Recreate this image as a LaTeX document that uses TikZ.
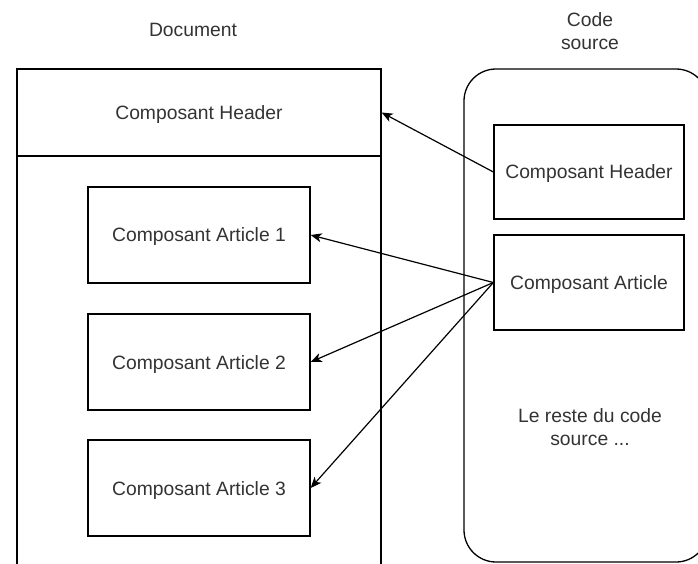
\documentclass[tikz,border=0pt]{standalone}
\usepackage{fontspec}
\setmainfont{Liberation Sans}
\usetikzlibrary{arrows.meta}
\definecolor{ink}{HTML}{333333}
\begin{document}
\begin{tikzpicture}[x=1pt,y=-1pt,
  line width=1.3pt,
  every node/.style={font=\fontsize{19.3}{22.7}\selectfont, text=ink, inner sep=0pt},
  box/.style={draw=black, rectangle, align=center, text depth=0pt},
  label/.style={align=center},
  link/.style={draw=black, line width=1.2pt, -{Stealth[length=11pt,width=9pt,inset=3pt]}},
]
\useasboundingbox (0,0) rectangle (698,563);
\clip (0,0) rectangle (698,563);

% titles
\node[label] (doclabel) at (193,30) {Document};
\node[label] (codelabel) at (590,31) {Code\\source};

% document column
\node[box, minimum width=364pt, minimum height=87pt] (dhead) at (199,112.5) {Composant Header};
\node[box, minimum width=364pt, minimum height=444pt] (dbody) at (199,378) {};
\node[box, minimum width=222pt, minimum height=96pt] (a1) at (199,235) {Composant Article 1};
\node[box, minimum width=222pt, minimum height=96pt] (a2) at (199,362) {Composant Article 2};
\node[box, minimum width=222pt, minimum height=96pt] (a3) at (199,488) {Composant Article 3};

% source code container
\node[box, rounded corners=32pt, minimum width=244pt, minimum height=493pt] (code) at (586,315.5) {};
\node[box, minimum width=190pt, minimum height=94pt] (chead) at (589,172) {Composant Header};
\node[box, minimum width=190pt, minimum height=95pt] (cart) at (589,282.5) {Composant Article};
\node[label] (rest) at (590,427) {Le reste du code\\source ...};

% connectors
\draw[link] (chead.west) -- (dhead.east);
\draw[link] (cart.west) -- (a1.east);
\draw[link] (cart.west) -- (a2.east);
\draw[link] (cart.west) -- (a3.east);
\end{tikzpicture}
\end{document}
